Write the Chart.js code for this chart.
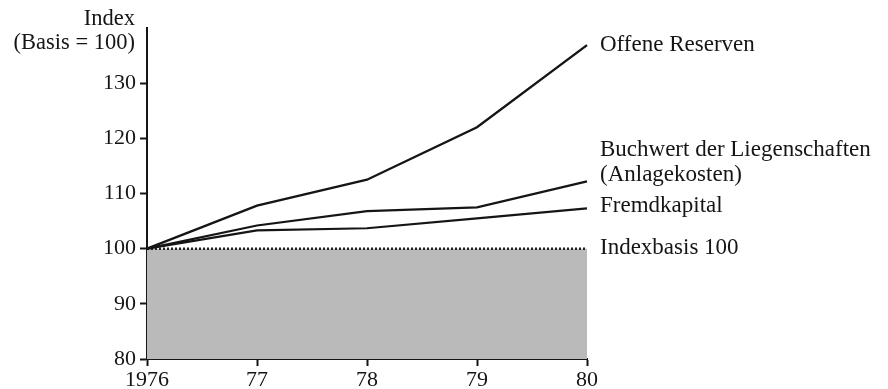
<!DOCTYPE html>
<html>
<head>
<meta charset="utf-8">
<script src="https://cdn.jsdelivr.net/npm/chart.js@4/dist/chart.umd.min.js"></script>
<style>
  body { margin: 0; background: #fff; }
  #wrap { width: 888px; height: 389px; }
</style>
</head>
<body>
<div id="wrap"><canvas id="chart" width="888" height="389"></canvas></div>
<script>
// years on the x axis
const years = ["1976", "77", "78", "79", "80"];
// index values (1976 = 100)
const offeneReserven = [100, 107.8, 112.5, 122, 136.9];
const buchwert = [100, 104.2, 106.8, 107.5, 112.2];
const fremdkapital = [100, 103.3, 103.7, 105.5, 107.3];
const indexbasis = [100, 100, 100, 100, 100];
const yTicks = [80, 90, 100, 110, 120, 130];

const serif = "'Liberation Serif', 'DejaVu Serif', serif";
const ink = "#151515";

// writes the series names next to the last point of each line
const endLabels = {
  id: "endLabels",
  afterDatasetsDraw(chart) {
    const ctx = chart.ctx;
    const y = chart.scales.y;
    const x = chart.scales.x;
    ctx.save();
    ctx.font = "23px " + serif;
    ctx.fillStyle = ink;
    ctx.textAlign = "left";
    ctx.textBaseline = "middle";
    chart.data.datasets.forEach((ds) => {
      const last = ds.data.length - 1;
      const px = x.getPixelForValue(last) + 13;
      const py = y.getPixelForValue(ds.data[last]) + ds.labelDy;
      const lines = ds.endLabel;
      lines.forEach((line, i) => {
        ctx.fillText(line, px, py - (lines.length - 1 - i) * 25);
      });
    });
    // axis title, top left
    ctx.textAlign = "right";
    ctx.font = "22.5px " + serif;
    ctx.fillText("Index", 135, 19);
    ctx.fillText("(Basis = 100)", 135, 43);
    ctx.restore();
  }
};

const ctx = document.getElementById("chart").getContext("2d");
new Chart(ctx, {
  type: "line",
  data: {
    labels: years,
    datasets: [
      {
        label: "Indexbasis 100",
        endLabel: ["Indexbasis 100"],
        labelDy: -1,
        data: indexbasis,
        borderColor: "#222",
        borderWidth: 2.5,
        borderDash: [2, 2],
        backgroundColor: "#bababa",
        fill: "start",
        order: 5,
      },
      {
        label: "Fremdkapital",
        endLabel: ["Fremdkapital"],
        labelDy: -2,
        data: fremdkapital,
        borderColor: ink,
        borderWidth: 2.2,
        fill: false,
      },
      {
        label: "Buchwert der Liegenschaften (Anlagekosten)",
        endLabel: ["Buchwert der Liegenschaften", "(Anlagekosten)"],
        labelDy: -6,
        data: buchwert,
        borderColor: ink,
        borderWidth: 2.2,
        fill: false,
      },
      {
        label: "Offene Reserven",
        endLabel: ["Offene Reserven"],
        labelDy: 0,
        data: offeneReserven,
        borderColor: ink,
        borderWidth: 2.4,
        fill: false,
      },
    ],
  },
  options: {
    responsive: false,
    animation: false,
    maintainAspectRatio: false,
    layout: { padding: { left: 0, right: 301, top: 28, bottom: 0 } },
    elements: { point: { radius: 0 }, line: { tension: 0 } },
    plugins: {
      legend: { display: false },
      tooltip: { enabled: false },
    },
    scales: {
      x: {
        offset: false,
        grid: {
          drawOnChartArea: false,
          tickLength: 7,
          tickWidth: 2,
          tickColor: ink,
        },
        border: { display: true, color: ink, width: 2 },
        ticks: {
          color: ink,
          font: { family: serif, size: 22 },
          padding: 1,
          maxRotation: 0,
          autoSkip: false,
        },
        afterFit(scale) { scale.height = 30; },
      },
      y: {
        min: 80,
        max: 140,
        afterBuildTicks(scale) {
          scale.ticks = yTicks.map((v) => ({ value: v }));
        },
        grid: {
          drawOnChartArea: false,
          tickLength: 7,
          tickWidth: 2,
          tickColor: ink,
        },
        border: { display: true, color: ink, width: 2 },
        ticks: {
          color: ink,
          font: { family: serif, size: 22 },
          padding: 4,
        },
        afterFit(scale) { scale.width = 147; },
      },
    },
  },
  plugins: [endLabels],
});
</script>
</body>
</html>
